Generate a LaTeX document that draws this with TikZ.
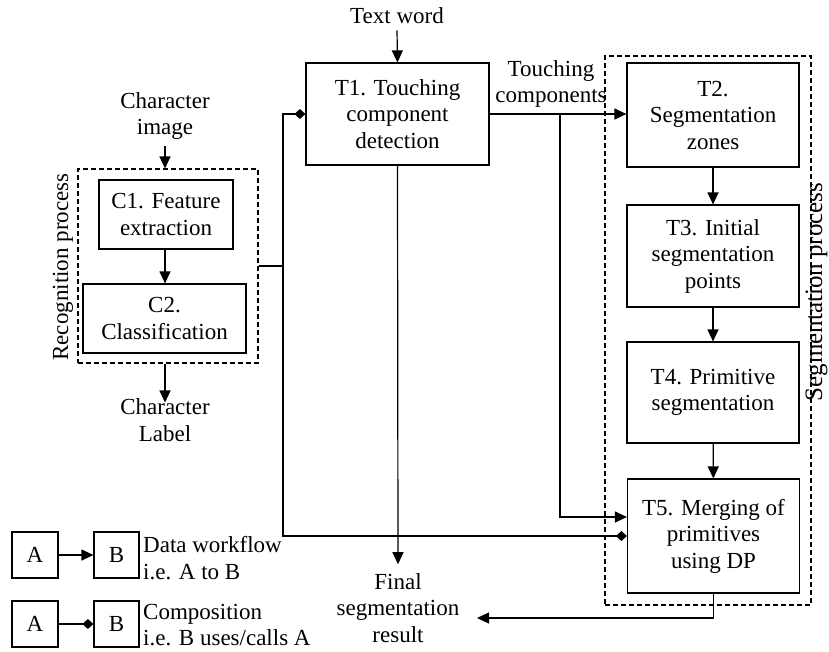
\documentclass[tikz,border=0pt]{standalone}
\usepackage{fontspec}
\setmainfont{Liberation Serif}
\usetikzlibrary{arrows.meta}
\begin{document}
\begin{tikzpicture}[x=1pt,y=-1pt,
  every node/.style={font=\fontsize{23}{26.5}\selectfont, align=center, inner sep=0pt},
  box/.style={draw, line width=1.2pt},
  grp/.style={draw, line width=1.1pt, dash pattern=on 5pt off 3pt},
  flow/.style={line width=1.2pt, -{Triangle[length=12pt,width=11pt]}},
  comp/.style={line width=1.2pt, -{Diamond[length=11pt,width=10pt]}},
  plain/.style={line width=1.2pt}
]
\useasboundingbox (0,0) rectangle (829,651);

% group frames
\node[grp, minimum width=180pt, minimum height=194pt] (rec) at (168,266) {};
\node[grp, minimum width=206pt, minimum height=549pt] (seg) at (708,330.5) {};
\node[rotate=90] (reclab) at (63,267) {Recognition process};
\node[rotate=90, anchor=base, font=\fontsize{25}{30}\selectfont] (seglab) at (822,292) {Segmentation process};

% boxes
\node[box, minimum width=183pt, minimum height=102pt] (T1) at (397.5,114) {T1. Touching\\component\\detection};
\node[box, minimum width=172pt, minimum height=104pt] (T2) at (713,115) {T2.\\Segmentation\\zones};
\node[box, minimum width=172pt, minimum height=102pt] (T3) at (713,256) {T3. Initial\\segmentation\\points};
\node[box, minimum width=172pt, minimum height=101pt] (T4) at (713,392.5) {T4. Primitive\\segmentation};
\node[box, minimum width=172pt, minimum height=114pt] (T5) at (713.5,536) {T5. Merging of\\primitives\\using DP};
\node[box, minimum width=134pt, minimum height=69pt] (C1) at (166,214.5) {C1. Feature\\extraction};
\node[box, minimum width=163pt, minimum height=69pt] (C2) at (164.5,318.5) {C2.\\Classification};

% texts
\node (tw) at (397,16) {Text word};
\node (ci) at (165,116) {Character\\image};
\node (cl) at (165,420) {Character\\Label};
\node (tc) at (551,84) {Touching\\components};
\node (fin) at (398,608) {Final\\segmentation\\result};

% legend
\node[box, minimum width=46pt, minimum height=46pt] (A1) at (35,555) {A};
\node[box, minimum width=45pt, minimum height=46pt] (B1) at (116.5,555) {B};
\node[box, minimum width=46pt, minimum height=46pt] (A2) at (35,624) {A};
\node[box, minimum width=45pt, minimum height=46pt] (B2) at (116.5,624) {B};
\node[anchor=west, align=left] (L1) at (143,558) {Data workflow\\i.e. A to B};
\node[anchor=west, align=left] (L2) at (143,625) {Composition\\i.e. B uses/calls A};
\draw[flow] (A1.east) -- (B1.west);
\draw[comp] (A2.east) -- (B2.west);

% coordinates
\coordinate (j) at (283,266);
\coordinate (k) at (560,114);
\coordinate (k2) at (560,517);
\coordinate (fe) at (477,618);

% connectors
\draw[flow] (tw.south) ++(0,6) -- (T1.north);
\draw[flow] ([yshift=-6pt]ci.south) -- (ci.south |- rec.north);
\draw[flow] (C1.south -| ci.south) -- (ci.south |- C2.north);
\draw[flow] (cl.north |- rec.south) -- ([yshift=-4pt]cl.north);
\draw[plain] (rec.east) -- (j);
\draw[comp] (j) |- (T1.west);
\draw[comp] (j) |- (T5.west);
\draw[flow] (T1.east) -- (T2.west |- T1.east);
\draw[flow] (k) |- (T5.west |- k2);
\draw[flow] (T1.south) -- ([yshift=9pt]fin.north);
\draw[flow] (T2) -- (T3);
\draw[flow] (T3) -- (T4);
\draw[flow] (T4) -- (T5);
\draw[flow] (T5.south) |- (fe);
\end{tikzpicture}
\end{document}
